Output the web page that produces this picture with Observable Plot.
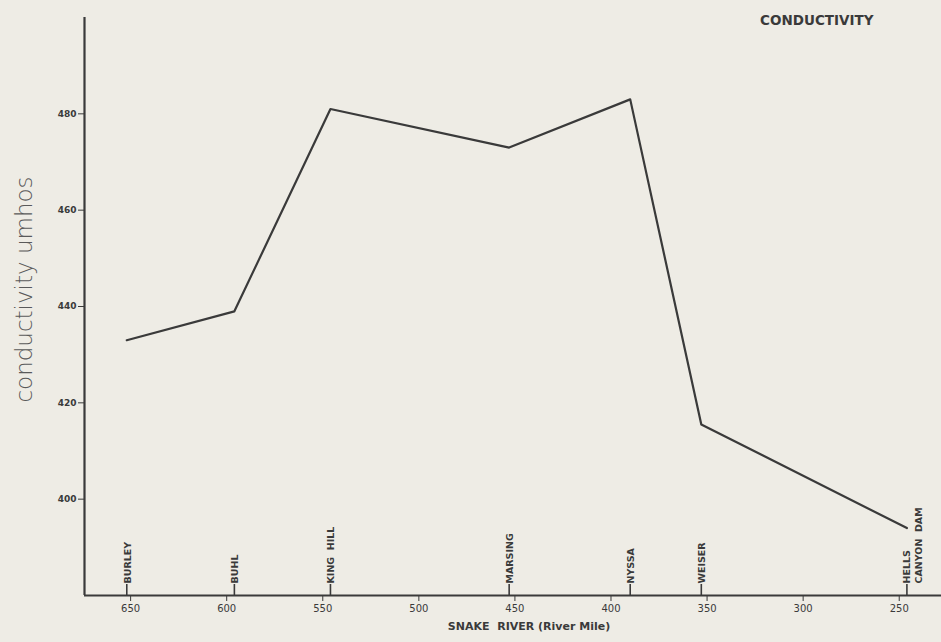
<!DOCTYPE html>
<html>
<head>
<meta charset="utf-8">
<script src="https://cdn.jsdelivr.net/npm/d3@7"></script>
<script src="https://cdn.jsdelivr.net/npm/@observablehq/plot@0.6"></script>
<style>
  html, body { margin: 0; padding: 0; background: #eeece5; }
  #chart svg { display: block; }
</style>
</head>
<body>
<div id="chart"></div>
<script>
// Sampling stations along the Snake River, downstream order
const stations = ["BURLEY", "BUHL", "KING  HILL", "MARSING", "NYSSA", "WEISER", "HELLS\nCANYON  DAM"];
const riverMiles = [652, 596, 546, 453, 390, 353, 246];
// Conductivity (umhos) measured at each station
const conductivity = [433, 439, 481, 473, 483, 415.5, 394];

const xTicks = [650, 600, 550, 500, 450, 400, 350, 300, 250];
const yTicks = [400, 420, 440, 460, 480];
const xDomain = [674, 228];
const yDomain = [380, 500];

const data = stations.map((name, i) => ({name, mile: riverMiles[i], value: conductivity[i]}));

const ink = "#3a3a3a";

// shared styling for the rotated station names
const stationText = {
  x: "mile", y: yDomain[0], text: "name", rotate: -90, textAnchor: "start",
  lineAnchor: "middle", lineHeight: 1.3, dy: -12, fontSize: 9.5, fontWeight: "bold", fill: ink
};

const chart = Plot.plot({
  width: 941,
  height: 642,
  marginLeft: 84,
  marginRight: 0,
  marginTop: 17,
  marginBottom: 47,
  style: {background: "#eeece5", color: ink, fontFamily: "DejaVu Sans"},
  x: {domain: xDomain, ticks: xTicks, label: null},
  y: {domain: yDomain, ticks: yTicks, label: null},
  marks: [
    // axes
    Plot.axisY({ticks: yTicks, tickSize: 6, tickPadding: 2, fontSize: 9, fontWeight: "bold", stroke: ink, label: null}),
    Plot.axisX({ticks: xTicks, tickSize: 6, tickPadding: 3, fontSize: 10, stroke: ink, label: null}),
    Plot.ruleX([xDomain[0]], {stroke: ink, strokeWidth: 2.2}),
    Plot.ruleY([yDomain[0]], {stroke: ink, strokeWidth: 2}),
    // station markers and names
    Plot.ruleX(data, {x: "mile", y1: yDomain[0], y2: yDomain[0], insetTop: -11, stroke: ink, strokeWidth: 1.6}),
    Plot.text(data, {...stationText, filter: (d) => !d.name.includes("\n")}),
    Plot.text(data, {...stationText, filter: (d) => d.name.includes("\n"), dx: 5}),
    // conductivity profile
    Plot.line(data, {x: "mile", y: "value", stroke: ink, strokeWidth: 2.2}),
    // labels
    Plot.text(["conductivity umhos"], {
      frameAnchor: "left", rotate: -90, dx: -60, dy: -17, fontSize: 23, fontWeight: 200,
      fill: "#5a5a5a", textAnchor: "middle"
    }),
    Plot.text(["SNAKE  RIVER (River Mile)"], {
      frameAnchor: "bottom", dy: 34, dx: 16, fontSize: 11, fontWeight: "bold", fill: ink, textAnchor: "middle"
    }),
    Plot.text(["CONDUCTIVITY"], {
      frameAnchor: "top-right", dx: -68, dy: -2, fontSize: 13.5, fontWeight: "bold", fill: ink, textAnchor: "end"
    })
  ]
});

// keep the doubled word gaps in the station and axis names
d3.select(chart).selectAll("text").style("white-space", "pre");

document.getElementById("chart").appendChild(chart);
</script>
</body>
</html>
